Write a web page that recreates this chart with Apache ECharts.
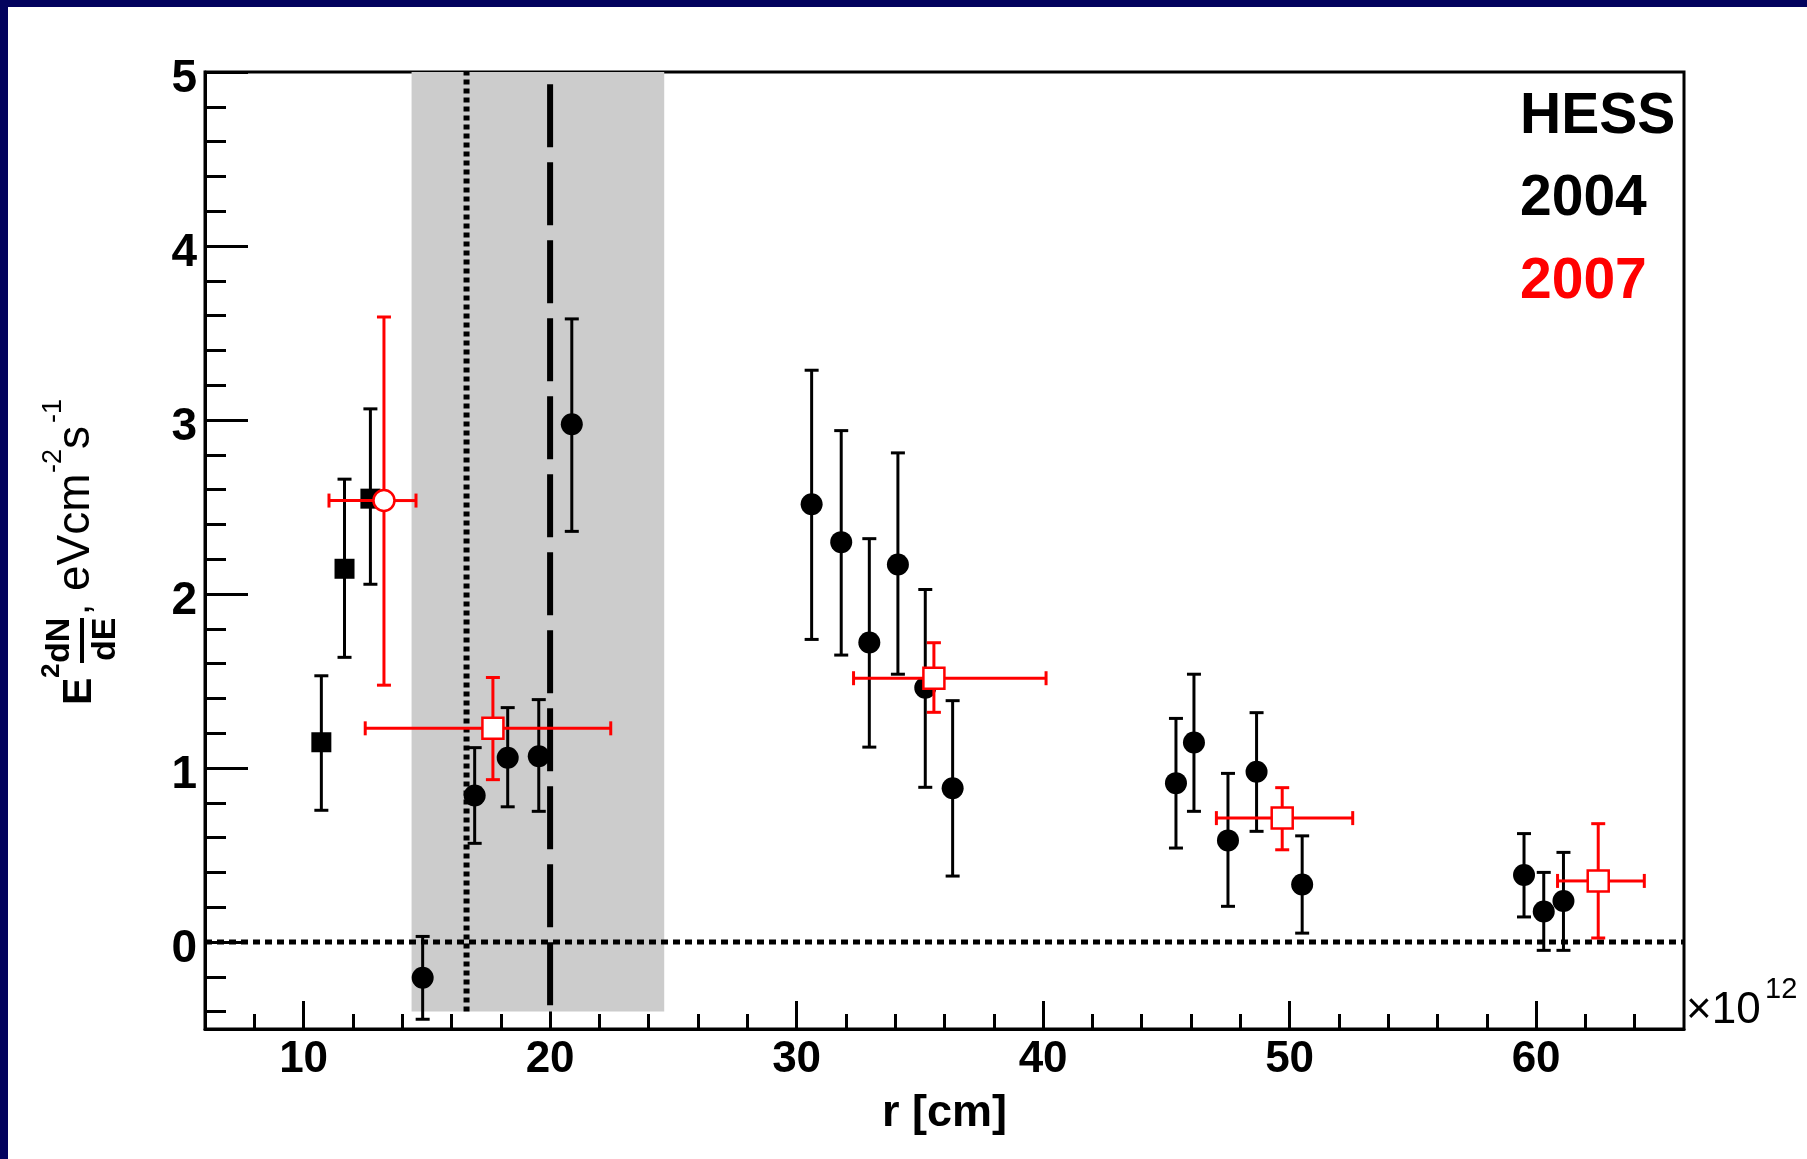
<!DOCTYPE html>
<html>
<head>
<meta charset="utf-8">
<script src="https://cdn.jsdelivr.net/npm/echarts@6/dist/echarts.min.js"></script>
<style>
  html, body { margin: 0; padding: 0; background: #fff; }
  #chart { width: 1807px; height: 1159px; }
</style>
</head>
<body>
<div id="chart"></div>
<script>
// axis ticks
var xTicks = [10, 20, 30, 40, 50, 60];
var xMinor = [8, 12, 14, 16, 18, 22, 24, 26, 28, 32, 34, 36, 38, 42, 44, 46, 48, 52, 54, 56, 58, 62, 64];
var yTicks = [0, 1, 2, 3, 4, 5];
var yMinor = [-0.4, -0.2, 0.2, 0.4, 0.6, 0.8, 1.2, 1.4, 1.6, 1.8, 2.2, 2.4, 2.6, 2.8, 3.2, 3.4, 3.6, 3.8, 4.2, 4.4, 4.6, 4.8];

// HESS 2004: [r, flux, lower, upper]
var hess2004Squares = [
  [10.72, 1.148, 0.757, 1.53],
  [11.66, 2.145, 1.636, 2.66],
  [12.71, 2.548, 2.056, 3.064]
];
var hess2004Circles = [
  [14.83, -0.205, -0.444, 0.032],
  [16.94, 0.842, 0.567, 1.117],
  [18.28, 1.059, 0.777, 1.347],
  [19.54, 1.067, 0.751, 1.393],
  [20.88, 2.976, 2.36, 3.581],
  [30.61, 2.516, 1.739, 3.286],
  [31.81, 2.298, 1.649, 2.939],
  [32.95, 1.721, 1.12, 2.318],
  [34.11, 2.17, 1.539, 2.811],
  [35.22, 1.461, 0.889, 2.026],
  [36.33, 0.884, 0.379, 1.387],
  [45.39, 0.913, 0.54, 1.285],
  [46.12, 1.146, 0.751, 1.539],
  [47.5, 0.584, 0.205, 0.969],
  [48.66, 0.979, 0.636, 1.318],
  [50.51, 0.33, 0.051, 0.61],
  [59.51, 0.385, 0.144, 0.623],
  [60.31, 0.175, -0.048, 0.4],
  [61.11, 0.236, -0.048, 0.515]
];
// HESS 2007: [r, flux, lower, upper, rmin, rmax]
var hess2007Circle = [
  [13.26, 2.537, 1.476, 3.592, 11.03, 14.56]
];
var hess2007Squares = [
  [17.68, 1.228, 0.933, 1.52, 12.5, 22.46],
  [35.57, 1.516, 1.32, 1.72, 32.31, 40.12],
  [49.7, 0.712, 0.53, 0.887, 47.03, 52.56],
  [62.52, 0.351, 0.023, 0.68, 60.87, 64.39]
];

// shaded band, reference lines
var bandX = [14.38, 24.63];
var bandY = [-0.4, 5];
var dottedR = 16.61;
var dashedR = 20;
var dashedTop = 4.93;

var FONT = '"Liberation Sans", Arial, Helvetica, sans-serif';

function errBars(color, gap) {
  return function (params, api) {
    var c = api.coord([api.value(0), api.value(1)]);
    var lo = api.coord([api.value(0), api.value(2)]);
    var hi = api.coord([api.value(0), api.value(3)]);
    var st = { stroke: color, lineWidth: 3 };
    var cap = 7;
    var ch = [
      { type: 'line', shape: { x1: c[0], y1: c[1] - gap, x2: hi[0], y2: hi[1] }, style: st },
      { type: 'line', shape: { x1: c[0], y1: c[1] + gap, x2: lo[0], y2: lo[1] }, style: st },
      { type: 'line', shape: { x1: hi[0] - cap, y1: hi[1], x2: hi[0] + cap, y2: hi[1] }, style: st },
      { type: 'line', shape: { x1: lo[0] - cap, y1: lo[1], x2: lo[0] + cap, y2: lo[1] }, style: st }
    ];
    if (api.value(4) !== undefined && !isNaN(api.value(4))) {
      var l = api.coord([api.value(4), api.value(1)]);
      var r = api.coord([api.value(5), api.value(1)]);
      ch.push({ type: 'line', shape: { x1: c[0] - gap, y1: c[1], x2: l[0], y2: l[1] }, style: st });
      ch.push({ type: 'line', shape: { x1: c[0] + gap, y1: c[1], x2: r[0], y2: r[1] }, style: st });
      ch.push({ type: 'line', shape: { x1: l[0], y1: l[1] - cap, x2: l[0], y2: l[1] + cap }, style: st });
      ch.push({ type: 'line', shape: { x1: r[0], y1: r[1] - cap, x2: r[0], y2: r[1] + cap }, style: st });
    }
    return { type: 'group', children: ch };
  };
}

var chart = echarts.init(document.getElementById('chart'));

var axisTickStyle = { color: '#000', width: 3 };

var option = {
  backgroundColor: '#fff',
  animation: false,
  grid: {
    left: 205, top: 72, width: 1479, height: 957,
    show: true, borderColor: '#000', borderWidth: 3, backgroundColor: '#fff'
  },
  xAxis: [
    {
      type: 'value', min: 6, max: 66, position: 'bottom',
      axisLine: { onZero: false, lineStyle: { color: '#000', width: 3 } },
      axisTick: { inside: true, length: 28, lineStyle: axisTickStyle, customValues: xTicks },
      axisLabel: { customValues: xTicks, color: '#000', fontWeight: 'bold', fontSize: 44, fontFamily: FONT, margin: 9 },
      splitLine: { show: false },
      name: 'r [cm]', nameLocation: 'middle', nameGap: 62,
      nameTextStyle: { color: '#000', fontWeight: 'bold', fontSize: 45, fontFamily: FONT }
    },
    {
      type: 'value', min: 6, max: 66, position: 'bottom',
      axisLine: { show: false, onZero: false },
      axisTick: { inside: true, length: 15, lineStyle: axisTickStyle, customValues: xMinor },
      axisLabel: { show: false },
      splitLine: { show: false }
    }
  ],
  yAxis: [
    {
      type: 'value', min: -0.5, max: 5, position: 'left',
      axisLine: { onZero: false, lineStyle: { color: '#000', width: 3 } },
      axisTick: { inside: true, length: 43, lineStyle: axisTickStyle, customValues: yTicks },
      axisLabel: {
        customValues: yTicks, margin: 8,
        formatter: '{v|{value}}',
        rich: { v: { color: '#000', fontWeight: 'bold', fontSize: 46, fontFamily: FONT, padding: [14, 0, 0, 0] } }
      },
      splitLine: { show: false }
    },
    {
      type: 'value', min: -0.5, max: 5, position: 'left',
      axisLine: { show: false, onZero: false },
      axisTick: { inside: true, length: 21, lineStyle: axisTickStyle, customValues: yMinor },
      axisLabel: { show: false },
      splitLine: { show: false }
    }
  ],
  series: [
    // grey band
    {
      type: 'line', data: [], z: 0, silent: true,
      markArea: {
        silent: true,
        itemStyle: { color: '#cccccc' },
        data: [[{ coord: [bandX[0], bandY[0]] }, { coord: [bandX[1], bandY[1]] }]]
      }
    },
    // y = 0 dotted
    {
      type: 'line', data: [[6, 0], [66, 0]], symbol: 'none', z: 1, silent: true,
      lineStyle: { color: '#000', width: 5, type: [7, 5], cap: 'butt' }
    },
    {
      type: 'line', data: [[dottedR, bandY[0]], [dottedR, bandY[1]]], symbol: 'none', z: 1, silent: true,
      lineStyle: { color: '#000', width: 6, type: [5, 4], cap: 'butt' }
    },
    {
      type: 'line', data: [[dashedR, dashedTop], [dashedR, bandY[0]]], symbol: 'none', z: 1, silent: true,
      lineStyle: { color: '#000', width: 6, type: [63, 15], cap: 'butt' }
    },
    // 2004
    { type: 'custom', data: hess2004Squares, renderItem: errBars('#000', 0), z: 2, silent: true },
    { type: 'custom', data: hess2004Circles, renderItem: errBars('#000', 0), z: 2, silent: true },
    {
      type: 'scatter', data: hess2004Squares, symbol: 'rect', symbolSize: 20, z: 3,
      itemStyle: { color: '#000', opacity: 1 }
    },
    {
      type: 'scatter', data: hess2004Circles, symbol: 'circle', symbolSize: 22, z: 3,
      itemStyle: { color: '#000', opacity: 1 }
    },
    // 2007
    { type: 'custom', data: hess2007Circle, renderItem: errBars('#ff0000', 10.5), z: 4, silent: true },
    { type: 'custom', data: hess2007Squares, renderItem: errBars('#ff0000', 10.5), z: 4, silent: true },
    {
      type: 'scatter', data: hess2007Circle, symbol: 'circle', symbolSize: 21, z: 5,
      itemStyle: { color: '#fff', borderColor: '#ff0000', borderWidth: 2.5, opacity: 1 }
    },
    {
      type: 'scatter', data: hess2007Squares, symbol: 'rect', symbolSize: 21, z: 5,
      itemStyle: { color: '#fff', borderColor: '#ff0000', borderWidth: 2.5, opacity: 1 }
    }
  ],
  graphic: [
    // slide frame
    { type: 'rect', shape: { x: 0, y: 0, width: 1807, height: 7 }, style: { fill: '#03035e' }, z: 100 },
    { type: 'rect', shape: { x: 0, y: 0, width: 8, height: 1159 }, style: { fill: '#03035e' }, z: 100 },
    // labels
    { type: 'text', x: 1520, y: 117, style: { text: 'HESS', fill: '#000', font: 'bold 57px ' + FONT, verticalAlign: 'middle' }, z: 100 },
    { type: 'text', x: 1520, y: 199, style: { text: '2004', fill: '#000', font: 'bold 57px ' + FONT, verticalAlign: 'middle' }, z: 100 },
    { type: 'text', x: 1520, y: 282, style: { text: '2007', fill: '#ff0000', font: 'bold 57px ' + FONT, verticalAlign: 'middle' }, z: 100 },
    // x10^12
    { type: 'text', x: 1686, y: 1011, style: { text: '\u00d710', fill: '#000', font: '44px ' + FONT, verticalAlign: 'middle' }, z: 100 },
    { type: 'text', x: 1765, y: 990, style: { text: '12', fill: '#000', font: '29px ' + FONT, verticalAlign: 'middle' }, z: 100 },
    // y axis title, rotated
    {
      type: 'group', x: 94, y: 705, rotation: Math.PI / 2, z: 100,
      children: [
        { type: 'text', x: 0, y: -14, style: { text: 'E', fill: '#000', font: 'bold 41px ' + FONT, verticalAlign: 'middle' } },
        { type: 'text', x: 27, y: -42, style: { text: '2', fill: '#000', font: 'bold 26px ' + FONT, verticalAlign: 'middle' } },
        { type: 'text', x: 42, y: -34, style: { text: 'dN', fill: '#000', font: 'bold 34px ' + FONT, verticalAlign: 'middle' } },
        { type: 'line', shape: { x1: 42, y1: -12, x2: 87, y2: -12 }, style: { stroke: '#000', lineWidth: 4 } },
        { type: 'text', x: 44, y: 12, style: { text: 'dE', fill: '#000', font: 'bold 34px ' + FONT, verticalAlign: 'middle' } },
        { type: 'text', x: 90, y: -16, style: { text: ',', fill: '#000', font: '40px ' + FONT, verticalAlign: 'middle' } },
        { type: 'text', x: 114, y: -18, style: { text: 'eVcm', fill: '#000', font: '46px ' + FONT, verticalAlign: 'middle' } },
        { type: 'text', x: 232, y: -40, style: { text: '-2', fill: '#000', font: '27px ' + FONT, verticalAlign: 'middle' } },
        { type: 'text', x: 256, y: -18, style: { text: 's', fill: '#000', font: '46px ' + FONT, verticalAlign: 'middle' } },
        { type: 'text', x: 282, y: -40, style: { text: '-1', fill: '#000', font: '27px ' + FONT, verticalAlign: 'middle' } }
      ]
    }
  ]
};

chart.setOption(option);
</script>
</body>
</html>
